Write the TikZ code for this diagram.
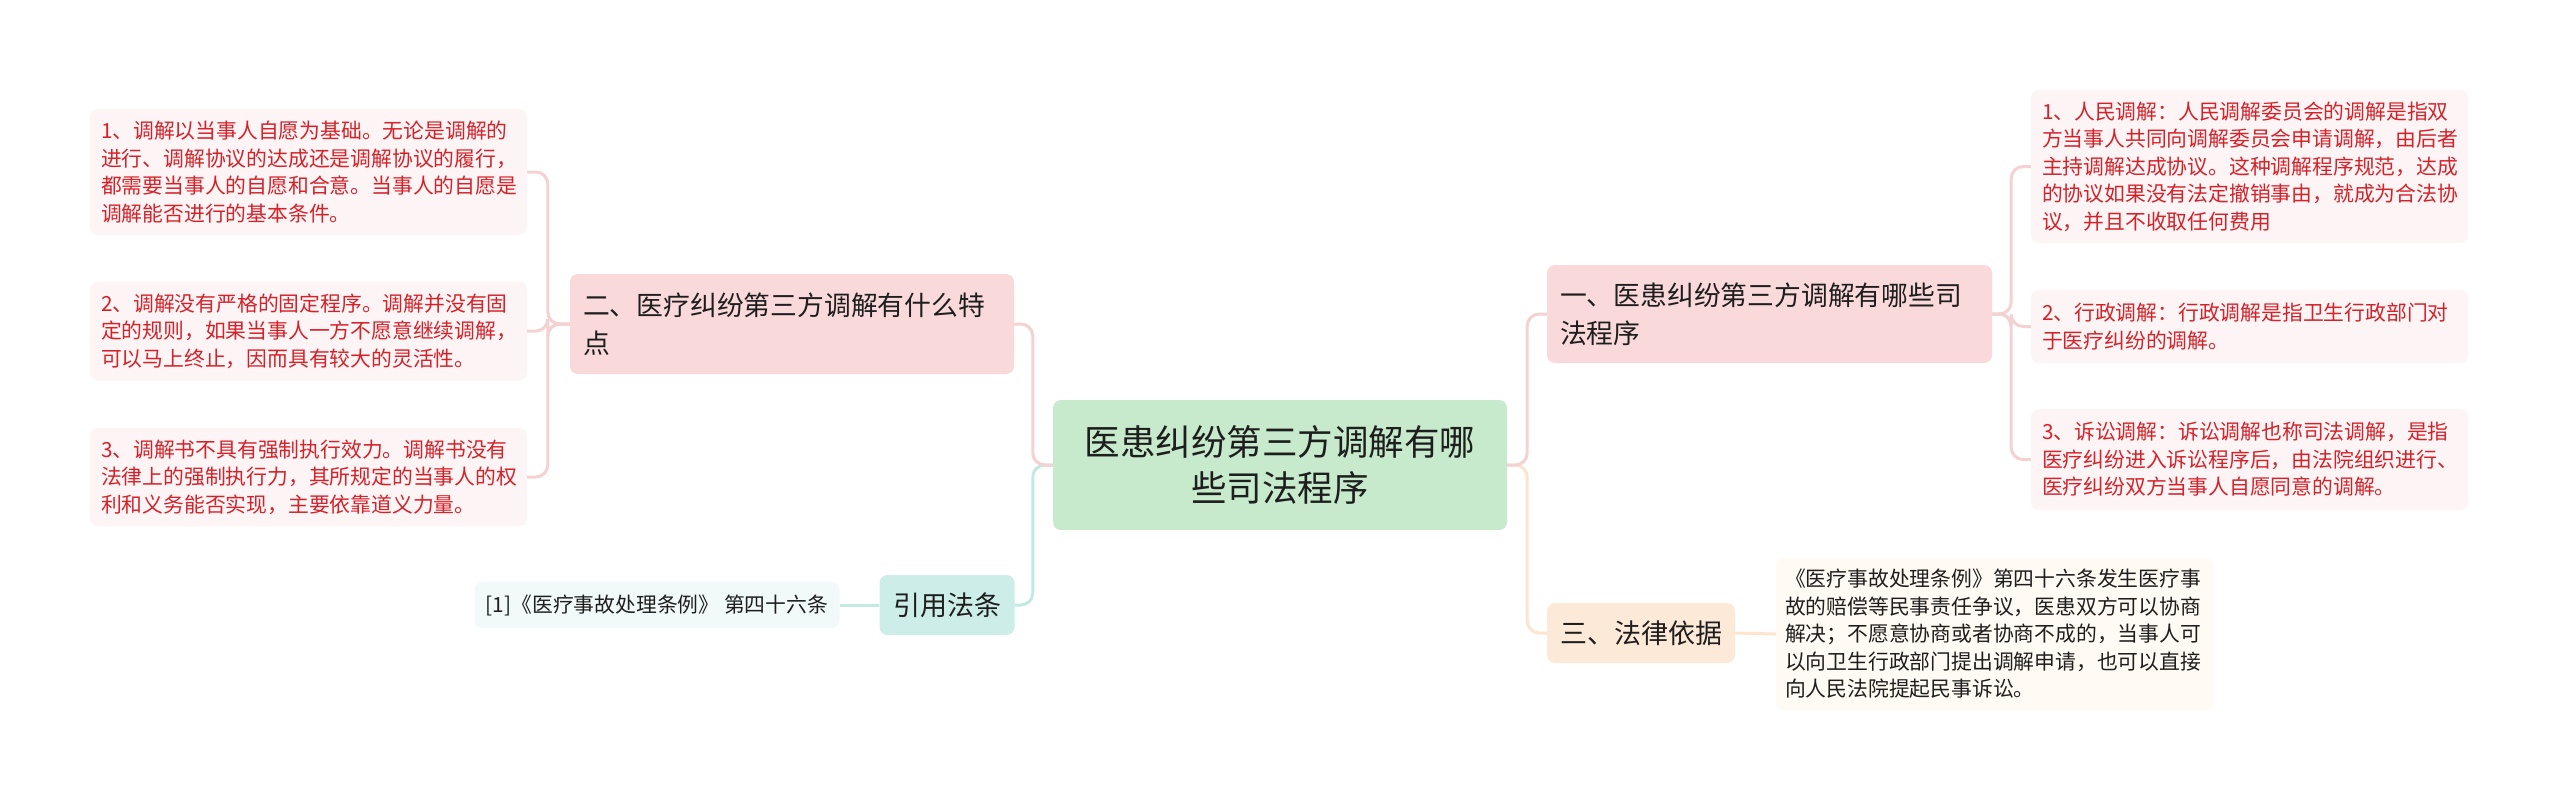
\documentclass[tikz,border=0pt]{standalone}
\usepackage{fontspec}
\setmainfont{Noto Sans CJK SC}
\newfontfamily\cjk{Noto Sans CJK SC}
\definecolor{leaffill}{HTML}{FDF5F5}
\definecolor{leafred}{HTML}{D4222A}
\definecolor{pinkfill}{HTML}{F9D9D9}
\definecolor{rootfill}{HTML}{C6EACB}
\definecolor{tealfill}{HTML}{CDEEE8}
\definecolor{citefill}{HTML}{F2FAF9}
\definecolor{peachfill}{HTML}{FDE9D7}
\definecolor{basisfill}{HTML}{FFFAF3}
\definecolor{darktext}{HTML}{1E1E1E}
\definecolor{pinkline}{HTML}{F5D2D2}
\definecolor{tealline}{HTML}{C2EAE2}
\definecolor{peachline}{HTML}{FCE4CE}
\begin{document}
\begin{tikzpicture}[x=1pt,y=-1pt,
  box/.style={rounded corners=8pt, inner ysep=0pt, anchor=center},
  leaf/.style={box, fill=leaffill, text=leafred, font=\cjk\fontsize{20.8}{27.5}\selectfont,
    text width=415pt, inner xsep=11pt, align=left},
  branch/.style={box, fill=pinkfill, text=darktext, font=\cjk\fontsize{26.8}{38}\selectfont,
    align=left, inner xsep=13pt},
  rootbox/.style={box, fill=rootfill, text=darktext, font=\cjk\fontsize{35.5}{46}\selectfont,
    align=center, text width=430pt, inner xsep=12pt},
  conn/.style={line width=3pt, rounded corners=12pt},
]
\useasboundingbox (0,0) rectangle (2560,801);
\fill[white] (0,0) rectangle (2560,801);

% nodes
\node[rootbox, minimum height=130pt] (root) at (1280,465) {医患纠纷第三方调解有哪\\些司法程序};

\node[branch, text width=418pt, minimum height=100pt] (b2) at (792,324) {二、医疗纠纷第三方调解有什么特\\点};
\node[leaf, minimum height=126pt] (l1) at (308.5,172) {1、调解以当事人自愿为基础。无论是调解的\\进行、调解协议的达成还是调解协议的履行，\\都需要当事人的自愿和合意。当事人的自愿是\\调解能否进行的基本条件。};
\node[leaf, minimum height=99pt] (l2) at (308.5,331) {2、调解没有严格的固定程序。调解并没有固\\定的规则，如果当事人一方不愿意继续调解，\\可以马上终止，因而具有较大的灵活性。};
\node[leaf, minimum height=98pt] (l3) at (308.5,477) {3、调解书不具有强制执行效力。调解书没有\\法律上的强制执行力，其所规定的当事人的权\\利和义务能否实现，主要依靠道义力量。};

\node[box, fill=tealfill, text=darktext, font=\cjk\fontsize{27}{34}\selectfont,
  minimum width=135pt, minimum height=60pt] (law) at (947,605) {引用法条};
\node[box, fill=citefill, text=darktext, font=\cjk\fontsize{20.8}{27}\selectfont,
  minimum width=365pt, minimum height=46pt] (cite) at (657,605) {[1]《医疗事故处理条例》 第四十六条};

\node[branch, text width=419pt, minimum height=98pt] (b1) at (1769.5,314) {一、医患纠纷第三方调解有哪些司\\法程序};
\node[leaf, minimum height=153pt] (r1) at (2249.5,166.5) {1、人民调解：人民调解委员会的调解是指双\\方当事人共同向调解委员会申请调解，由后者\\主持调解达成协议。这种调解程序规范，达成\\的协议如果没有法定撤销事由，就成为合法协\\议，并且不收取任何费用};
\node[leaf, minimum height=73pt] (r2) at (2249.5,326.5) {2、行政调解：行政调解是指卫生行政部门对\\于医疗纠纷的调解。};
\node[leaf, minimum height=101pt] (r3) at (2249.5,459.5) {3、诉讼调解：诉讼调解也称司法调解，是指\\医疗纠纷进入诉讼程序后，由法院组织进行、\\医疗纠纷双方当事人自愿同意的调解。};

\node[box, fill=peachfill, text=darktext, font=\cjk\fontsize{27}{34}\selectfont,
  minimum width=188pt, minimum height=60pt] (b3) at (1641,633) {三、法律依据};
\node[box, fill=basisfill, text=darktext, font=\cjk\fontsize{20.8}{27.5}\selectfont,
  text width=420pt, inner xsep=9pt, align=left, minimum height=152pt] (r4) at (1995,634) {《医疗事故处理条例》第四十六条发生医疗事\\故的赔偿等民事责任争议，医患双方可以协商\\解决；不愿意协商或者协商不成的，当事人可\\以向卫生行政部门提出调解申请，也可以直接\\向人民法院提起民事诉讼。};

% connectors
\draw[conn, draw=tealline] (root.west) -- ++(-20,0) |- (law.east);
\draw[conn, draw=pinkline] (root.west) -- ++(-20,0) |- (b2.east);
\draw[conn, draw=pinkline] (b2.west) -- ++(-22,0) |- (l1.east);
\draw[conn, draw=pinkline] (b2.west) -- ++(-22,0) |- (l2.east);
\draw[conn, draw=pinkline] (b2.west) -- ++(-22,0) |- (l3.east);
\draw[conn, draw=tealline] (law.west) -- (cite.east);
\draw[conn, draw=peachline] (root.east) -- ++(20,0) |- (b3.west);
\draw[conn, draw=pinkline] (root.east) -- ++(20,0) |- (b1.west);
\draw[conn, draw=pinkline] (b1.east) -- ++(19,0) |- (r1.west);
\draw[conn, draw=pinkline] (b1.east) -- ++(19,0) |- (r2.west);
\draw[conn, draw=pinkline] (b1.east) -- ++(19,0) |- (r3.west);
\draw[conn, draw=peachline] (b3.east) -- (r4.west);
\end{tikzpicture}
\end{document}
